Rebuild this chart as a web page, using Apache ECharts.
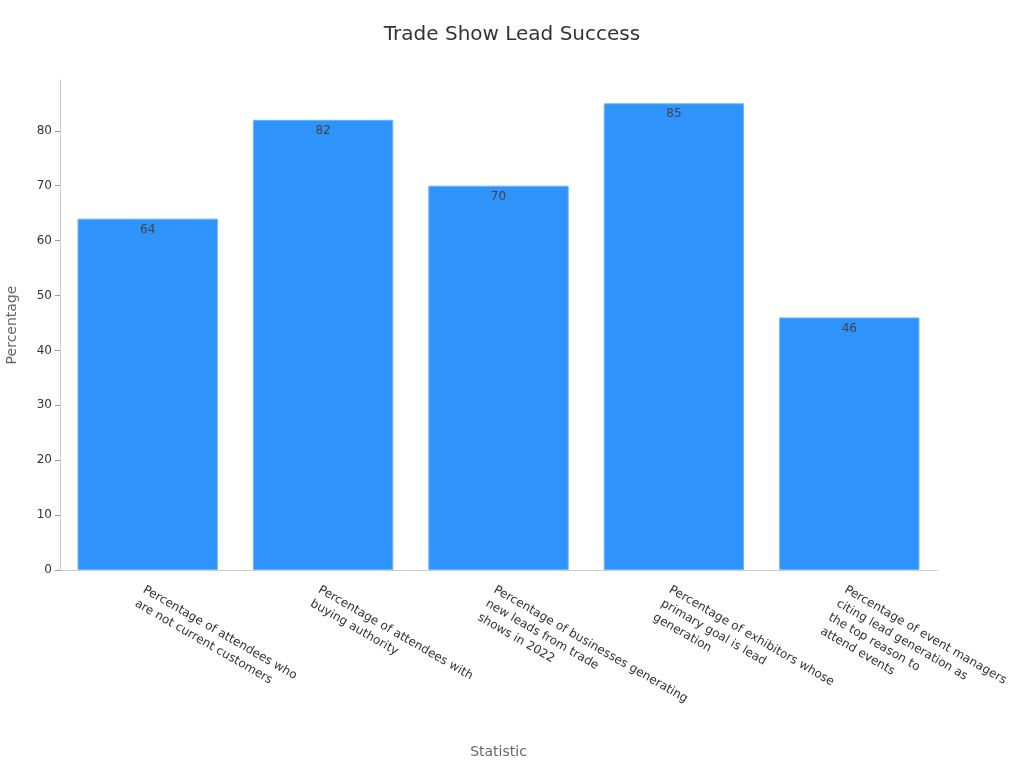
<!DOCTYPE html>
<html>
<head>
<meta charset="utf-8">
<script src="https://cdn.jsdelivr.net/npm/echarts@6/dist/echarts.min.js"></script>
<style>html,body{margin:0;padding:0;background:#fff}#c{width:1024px;height:768px}</style>
</head>
<body>
<div id="c"></div>
<script>
const categories = [
  "Percentage of attendees who are not current customers",
  "Percentage of attendees with buying authority",
  "Percentage of businesses generating new leads from trade shows in 2022",
  "Percentage of exhibitors whose primary goal is lead generation",
  "Percentage of event managers citing lead generation as the top reason to attend events"
];
const values = [64, 82, 70, 85, 46];
const yTicks = [0, 10, 20, 30, 40, 50, 60, 70, 80];

function wrapWords(s, n) {
  const w = s.split(' ');
  const lines = [];
  for (let i = 0; i < w.length; i += n) lines.push(w.slice(i, i + n).join(' '));
  return lines.join('\n');
}

const chart = echarts.init(document.getElementById('c'));
chart.setOption({
  animation: false,
  textStyle: { fontFamily: 'DejaVu Sans' },
  title: {
    text: 'Trade Show Lead Success',
    left: 'center',
    top: 20,
    textStyle: { fontSize: 20, fontWeight: 'normal', color: '#333' }
  },
  grid: { left: 60, right: 87, top: 80, bottom: 198, containLabel: false, outerBoundsMode: 'none' },
  xAxis: {
    type: 'category',
    data: categories,
    name: 'Statistic',
    nameLocation: 'middle',
    nameGap: 175,
    nameTextStyle: { fontSize: 14, color: '#666' },
    axisLine: { lineStyle: { color: '#ccc' } },
    axisTick: { alignWithLabel: true, lineStyle: { color: '#999' } },
    axisLabel: {
      rotate: -30,
      interval: 0,
      margin: 12,
      fontSize: 12,
      color: '#333',
      lineHeight: 16,
      verticalAlign: 'top',
      formatter: v => wrapWords(v, 4)
    }
  },
  yAxis: {
    type: 'value',
    min: 0,
    max: 89.25,
    interval: 10,
    name: 'Percentage',
    nameLocation: 'middle',
    nameGap: 41,
    nameTextStyle: { fontSize: 14, color: '#666' },
    axisLine: { show: true, lineStyle: { color: '#ccc' } },
    axisTick: { show: true, customValues: yTicks, lineStyle: { color: '#999' } },
    axisLabel: { customValues: yTicks, fontSize: 12, color: '#333' },
    splitLine: { show: false }
  },
  series: [{
    type: 'bar',
    data: values,
    barCategoryGap: '20%',
    itemStyle: { color: '#2e93fa', borderColor: '#6ab4fb', borderWidth: 1 },
    label: { show: true, position: 'insideTop', fontSize: 12, color: '#444' }
  }]
});
</script>
</body>
</html>
